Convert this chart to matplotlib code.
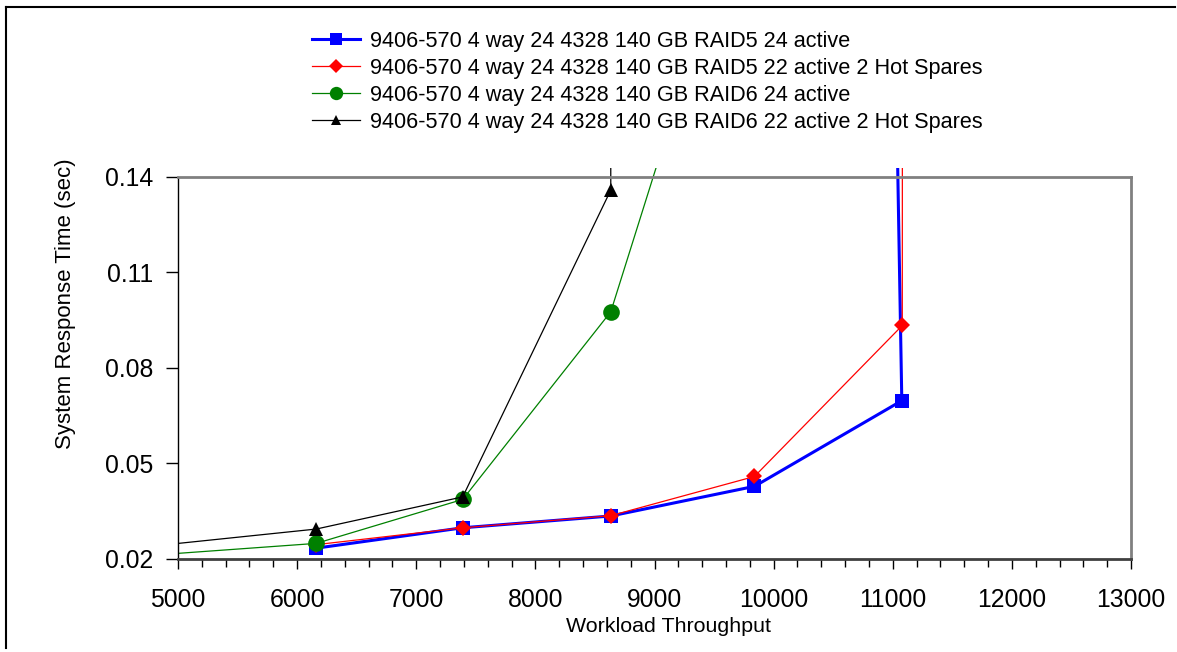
import matplotlib
matplotlib.use('Agg')
import matplotlib.pyplot as plt
from matplotlib.patches import Rectangle
from matplotlib.lines import Line2D
from matplotlib.ticker import MultipleLocator, FixedLocator, FormatStrFormatter

plt.rcParams['font.family'] = ['Liberation Sans', 'DejaVu Sans']

# ---- data ----
labels = [
    "9406-570 4 way 24 4328 140 GB RAID5 24 active",
    "9406-570 4 way 24 4328 140 GB RAID5 22 active 2 Hot Spares",
    "9406-570 4 way 24 4328 140 GB RAID6 24 active",
    "9406-570 4 way 24 4328 140 GB RAID6 22 active 2 Hot Spares",
]
x_raid5_24 = [6160, 7390, 8633, 9839, 11076, 11010]
y_raid5_24 = [0.0234, 0.0298, 0.0335, 0.0428, 0.0697, 0.2100]

x_raid5_22 = [6160, 7390, 8633, 9839, 11080, 11082]
y_raid5_22 = [0.0245, 0.0298, 0.0336, 0.0459, 0.0933, 0.2500]

x_raid6_24 = [4900, 6160, 7390, 8633, 9839]
y_raid6_24 = [0.0215, 0.0249, 0.0387, 0.0976, 0.2410]

x_raid6_22 = [4900, 6160, 7390, 8633, 8630]
y_raid6_22 = [0.0245, 0.0294, 0.0395, 0.1358, 0.3000]

y_ticks = [0.02, 0.05, 0.08, 0.11, 0.14]

W, H = 1177, 652
fig = plt.figure(figsize=(W / 100, H / 100), dpi=100)
ax = fig.add_axes([178 / W, 1 - 559 / H, (1131 - 178) / W, (559 - 176.7) / H])

clip = Rectangle((0, 0), 1, 1.022, transform=ax.transAxes)

styles = [
    (x_raid5_24, y_raid5_24, dict(color='#0000FF', lw=2.2, marker='s', ms=10, mew=0)),
    (x_raid5_22, y_raid5_22, dict(color='#FF0000', lw=0.9, marker='D', ms=8.5, mew=0)),
    (x_raid6_24, y_raid6_24, dict(color='#008000', lw=0.9, marker='o', ms=12, mew=0)),
    (x_raid6_22, y_raid6_22, dict(color='#000000', lw=0.9, marker='^', ms=9.5, mew=0)),
]
handles = []
for (xs, ys, st), lab in zip(styles, labels):
    ln, = ax.plot(xs, ys, label=lab, **st)
    ln.set_clip_path(clip)
    handles.append(ln)

ax.set_xlim(5000, 13000)
ax.set_ylim(0.02, 0.14)
ax.xaxis.set_major_locator(MultipleLocator(1000))
ax.xaxis.set_minor_locator(MultipleLocator(200))
ax.yaxis.set_major_locator(FixedLocator(y_ticks))
ax.yaxis.set_major_formatter(FormatStrFormatter('%.2f'))

ax.tick_params(axis='x', which='major', direction='out', length=7, width=1,
               labelsize=17.8, pad=14, color='#000000')
ax.tick_params(axis='x', which='minor', direction='out', length=5.5, width=1,
               color='#000000')
ax.tick_params(axis='y', which='major', direction='out', length=9, width=1,
               labelsize=17.8, pad=8.6)

ax.spines['top'].set_color('#808080')
ax.spines['right'].set_color('#808080')
ax.spines['top'].set_linewidth(2)
ax.spines['right'].set_linewidth(2)
ax.spines['left'].set_color('#000000')
ax.spines['left'].set_linewidth(1)
ax.spines['bottom'].set_color('#404040')
ax.spines['bottom'].set_linewidth(2)

ax.set_xlabel("Workload Throughput", fontsize=15.4)
ax.xaxis.set_label_coords((668 - 178) / 953, (559 - 617) / 382.3)
ax.set_ylabel("System Response Time (sec)", fontsize=16, va='center', ha='center')
ax.yaxis.set_label_coords((66 - 178) / 953, (559 - 304) / 382.3)

fig.legend(handles, labels, loc='upper left', bbox_to_anchor=(312 / W, 1 - 31 / H),
           frameon=False, fontsize=15.6, handlelength=2.2, handletextpad=0.5,
           labelspacing=0.27, borderpad=0, borderaxespad=0, markerscale=0.8)

# outer chart border (only top and left edges are visible in the reference)
fig.add_artist(Line2D([6 / W, 1175 / W], [1 - 7 / H, 1 - 7 / H],
                      transform=fig.transFigure, color='black', lw=1.5))
fig.add_artist(Line2D([6 / W, 6 / W], [4 / H, 1 - 7 / H],
                      transform=fig.transFigure, color='black', lw=1.5))

fig.savefig('out.png', dpi=100)
